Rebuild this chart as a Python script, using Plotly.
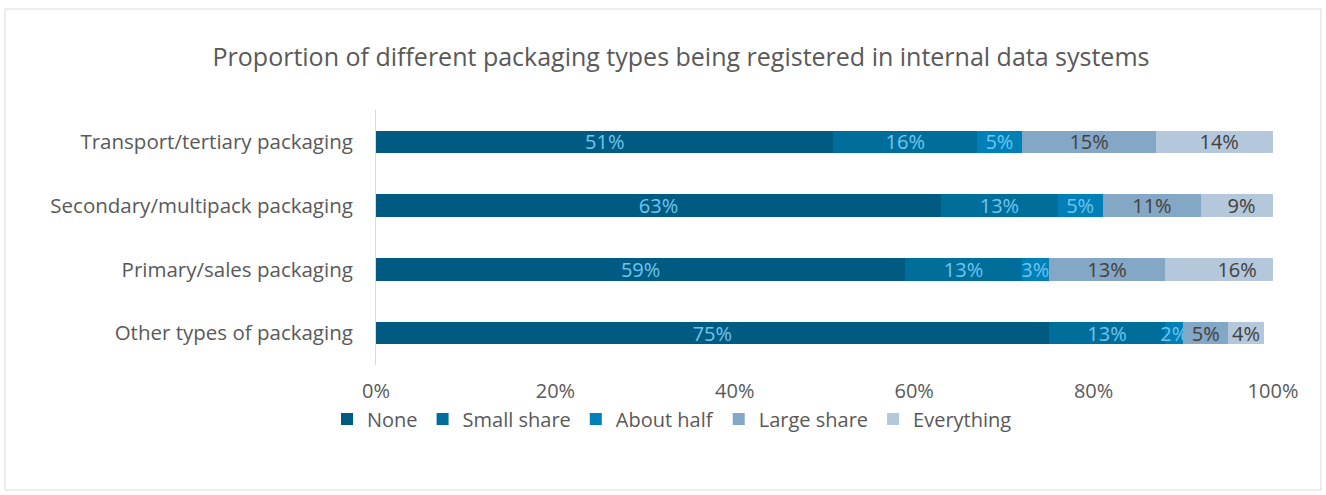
import plotly.graph_objects as go

# Packaging types (top to bottom)
categories = [
    "Transport/tertiary packaging",
    "Secondary/multipack packaging",
    "Primary/sales packaging",
    "Other types of packaging",
]

# Share of companies per registration level (%)
none_vals = [51, 63, 59, 75]
small_vals = [16, 13, 13, 13]
half_vals = [5, 5, 3, 2]
large_vals = [15, 11, 13, 5]
everything_vals = [14, 9, 16, 4]

series_names = ["None", "Small share", "About half", "Large share", "Everything"]
series_values = [none_vals, small_vals, half_vals, large_vals, everything_vals]
series_colors = ["#005B82", "#006E9B", "#0080B6", "#84A7C6", "#B5C8DB"]
label_colors = ["#6EC6F0", "#6EC6F0", "#6EC6F0", "#404040", "#404040"]

FONT = "Open Sans"

fig = go.Figure()
for name, vals, color, tcolor in zip(series_names, series_values, series_colors, label_colors):
    fig.add_trace(
        go.Bar(
            y=categories,
            x=[v / 100 for v in vals],
            name=name,
            orientation="h",
            marker=dict(color=color, line=dict(width=0)),
            text=[f"{v}%" for v in vals],
            textposition="inside",
            insidetextanchor="middle",
            textangle=0,
            constraintext="none",
            textfont=dict(color=tcolor, size=20, family=FONT),
            cliponaxis=True,
            hovertemplate="%{y}<br>" + name + ": %{text}<extra></extra>",
        )
    )

L, R, T, B = 376, 53, 110, 130
W, H = 1326, 495
pw, ph = W - L - R, H - T - B

fig.update_layout(
    width=W,
    height=H,
    barmode="stack",
    bargap=0.65,
    margin=dict(l=L, r=R, t=T, b=B),
    paper_bgcolor="white",
    plot_bgcolor="white",
    font=dict(family=FONT, color="#595959", size=20),
    title=dict(
        text="Proportion of different packaging types being registered in internal data systems",
        x=681 / W,
        xanchor="center",
        y=1 - 57 / H,
        yanchor="middle",
        font=dict(size=25, color="#595959", family=FONT),
    ),
    xaxis=dict(
        range=[0, 1],
        tickvals=[0, 0.2, 0.4, 0.6, 0.8, 1.0],
        ticktext=["0%", "20%", "40%", "60%", "80%", "100%"],
        showgrid=False,
        zeroline=False,
        showline=False,
        ticks="",
        tickfont=dict(size=20, color="#595959"),
        ticklabelstandoff=12,
        fixedrange=True,
    ),
    yaxis=dict(
        categoryorder="array",
        categoryarray=categories[::-1],
        showgrid=False,
        zeroline=False,
        showline=True,
        linecolor="#D9D9D9",
        linewidth=1,
        ticks="",
        ticklabelstandoff=18,
        tickfont=dict(size=20.5, color="#595959"),
        fixedrange=True,
    ),
    legend=dict(
        orientation="h",
        traceorder="normal",
        x=(672 - L) / pw,
        xanchor="center",
        y=-(419 - (T + ph)) / ph,
        yanchor="middle",
        font=dict(size=20, color="#595959"),
        itemwidth=30,
        tracegroupgap=0,
        bgcolor="rgba(0,0,0,0)",
    ),
    showlegend=True,
)

# Outer chart border
fig.add_shape(
    type="rect",
    xref="paper",
    yref="paper",
    x0=(5 - L) / pw,
    x1=(W - 5 - L) / pw,
    y0=1 + (T - 9) / ph,
    y1=-(H - 5 - T - ph) / ph,
    line=dict(color="#D9D9D9", width=1),
    fillcolor="rgba(0,0,0,0)",
    layer="below",
)

fig.write_html("out.html")
